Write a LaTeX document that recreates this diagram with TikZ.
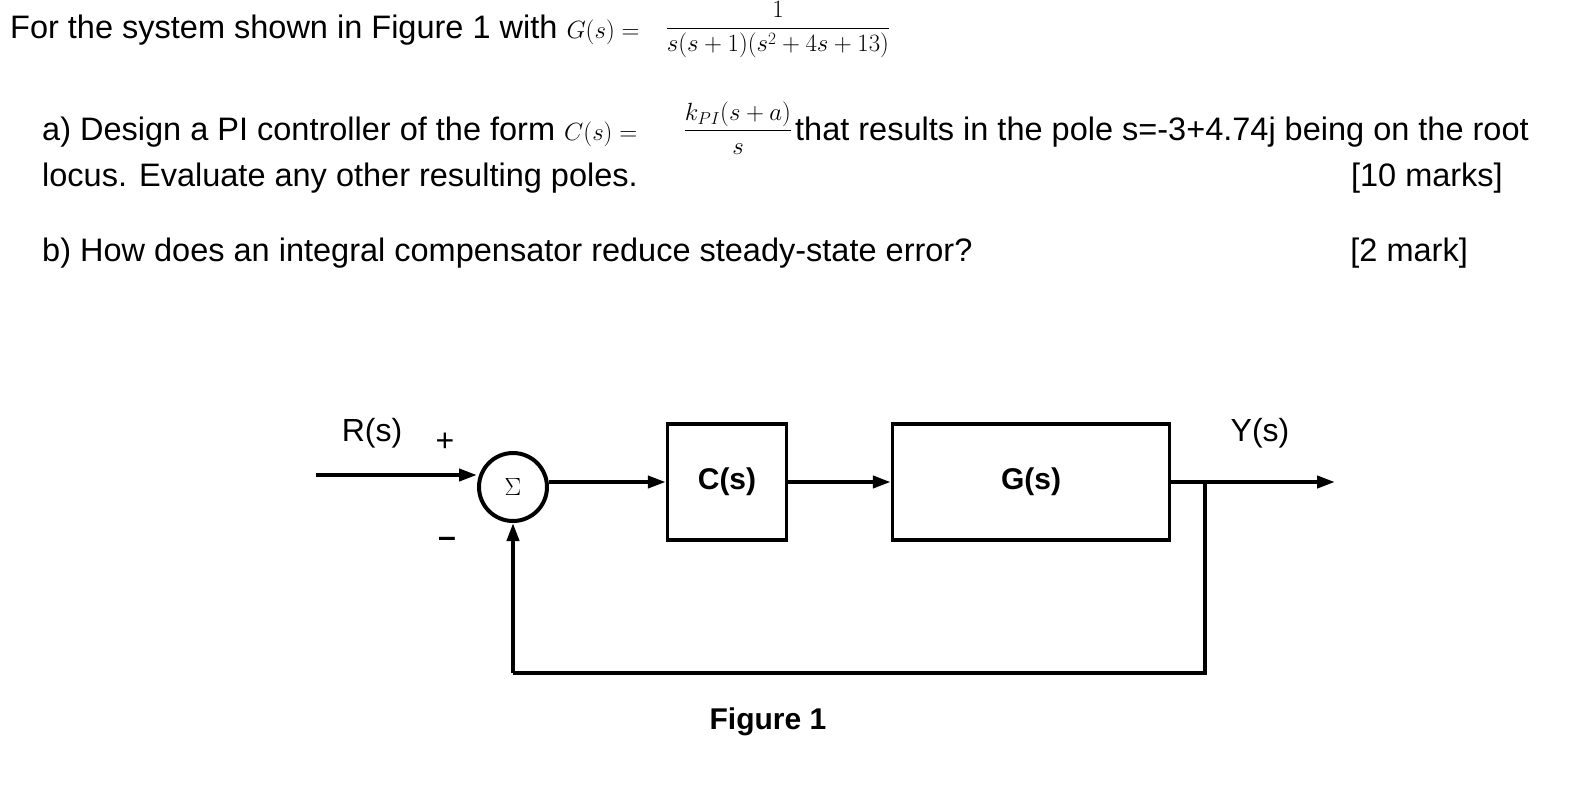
\documentclass[tikz,border=0pt]{standalone}
\usepackage{amsmath}
\usepackage{fontspec}
\setmainfont{Liberation Sans}
\usetikzlibrary{arrows.meta}
\begin{document}
\begin{tikzpicture}[x=1pt,y=-1pt,
  txt/.style={anchor=base west,inner sep=0pt,font=\fontsize{32.5}{34}\selectfont},
  blk/.style={draw,line width=3.5pt,minimum width=#1,minimum height=116pt,inner sep=0pt,font=\bfseries\fontsize{30}{32}\selectfont},
  ln/.style={line width=4pt},
  arr/.style={ln,-{Triangle[length=18pt,width=12pt]}},
  lbl/.style={inner sep=0pt,font=\fontsize{32}{34}\selectfont}]
\useasboundingbox[fill=white] (0,0) rectangle (1580,788);
\node[txt] (t1) at (10,38) {For the system shown in Figure 1 with $G(s)=$};
\node[inner sep=0pt,font=\fontsize{24}{26}\selectfont] (t1f) at (778,30) {$\dfrac{1}{s(s+1)(s^2+4s+13)}$};
\node[txt] (t2) at (42,140) {a) Design a PI controller of the form $C(s)=$};
\node[inner sep=0pt,font=\fontsize{24}{26}\selectfont] (t2f) at (738,128) {$\dfrac{k_{PI}(s+a)}{s}$};
\node[txt] (t2b) at (795,140) {that results in the pole s=-3+4.74j being on the root};
\node[txt] (t3) at (42,186) {locus. Evaluate any other resulting poles.};
\node[txt,anchor=base east] (t3b) at (1503,186) {[10 marks]};
\node[txt] (t4) at (42,261) {b) How does an integral compensator reduce steady-state error?};
\node[txt,anchor=base east] (t4b) at (1468,261) {[2 mark]};

\node[draw,circle,line width=4pt,minimum size=68pt,inner sep=0pt,font=\fontsize{36}{38}\selectfont] (sum) at (513,487) {$\Sigma$};
\node[blk=119pt] (C) at (727,482) {C(s)};
\node[blk=277pt] (G) at (1031,482) {G(s)};
\coordinate (in) at (316,475);
\coordinate (br) at (1205,482);
\coordinate (out) at (1335,482);
\coordinate (fb1) at (1205,673);
\coordinate (fb2) at (513,673);
\draw[arr] (in) -- (sum.west |- in);
\draw[arr] (sum.east |- C) -- (C.west);
\draw[arr] (C.east) -- (G.west);
\draw[arr] (G.east) -- (out);
\draw[ln] (br) -- (fb1) -- (fb2);
\draw[arr] (fb2) -- (sum.south);
\node[lbl] (R) at (372,433) {R(s)};
\node[lbl] (plus) at (445,442) {+};
\node[lbl] (minus) at (447,542) {\textbf{--}};
\node[lbl] (Y) at (1260,433) {Y(s)};
\node[inner sep=0pt,font=\bfseries\fontsize{30}{32}\selectfont] (fig) at (768,722) {Figure 1};
\end{tikzpicture}
\end{document}
